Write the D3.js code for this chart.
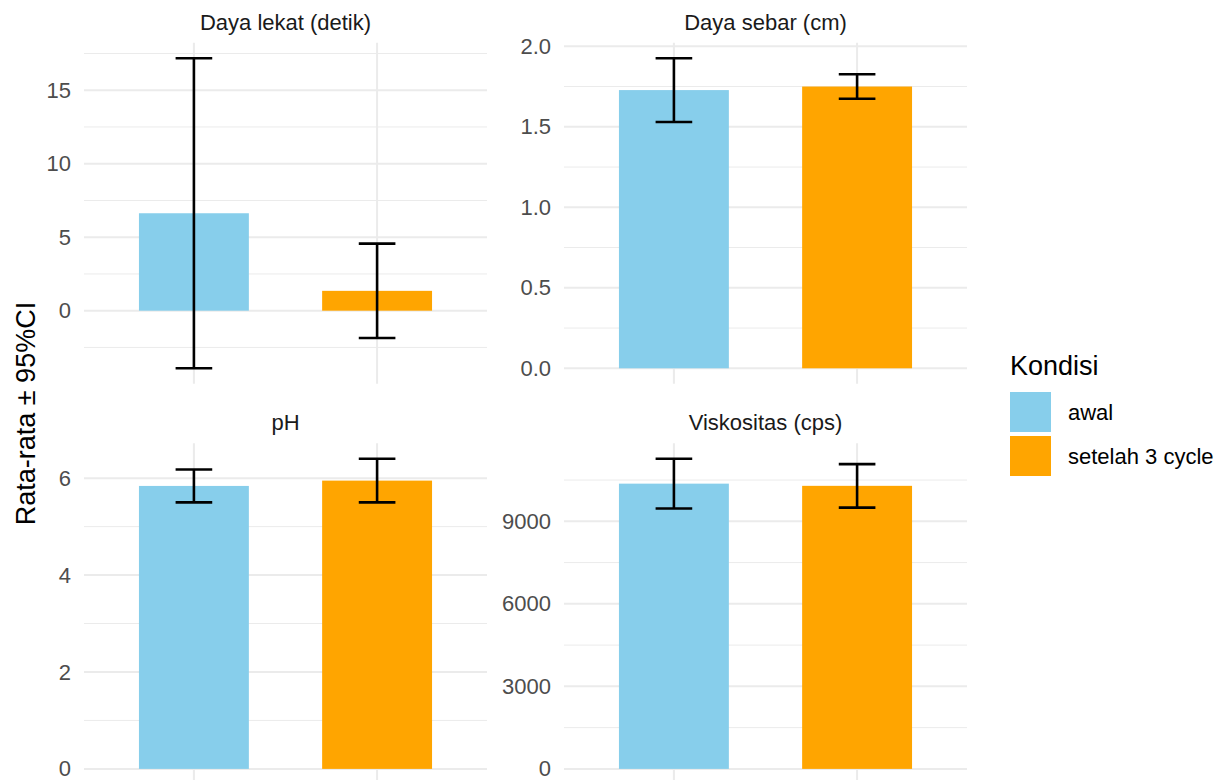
<!DOCTYPE html>
<html>
<head>
<meta charset="utf-8">
<script src="https://cdn.jsdelivr.net/npm/d3@7"></script>
<style>
  body { margin: 0; background: #fff; }
  svg { display: block; font-family: "Liberation Sans", Arial, sans-serif; }
</style>
</head>
<body>
<div id="chart"></div>
<script>
// facet titles and groups
var panels = ["Daya lekat (detik)", "Daya sebar (cm)", "pH", "Viskositas (cps)"];
var kondisi = ["awal", "setelah 3 cycle"];
var colors = ["#87CEEB", "#FFA500"];

// mean and 95% CI half width, per panel
var meanAwal = [6.63, 1.728, 5.84, 10370];
var meanSetelah = [1.35, 1.75, 5.95, 10290];
var ciAwal = [10.55, 0.198, 0.34, 903];
var ciSetelah = [3.21, 0.076, 0.45, 790];

// y ticks per panel
var yTicks = [[0, 5, 10, 15], [0, 0.5, 1.0, 1.5, 2.0], [0, 2, 4, 6], [0, 3000, 6000, 9000]];
var yFormats = ["d", ".1f", "d", "d"];

var W = 1224, H = 780;
var svg = d3.select("#chart").append("svg")
  .attr("width", W)
  .attr("height", H);

// panel boxes (left, right, top, bottom)
var cols = [[84, 487], [564, 967]];
var rows = [[42.7, 383.8], [443.3, 784.4]];

panels.forEach(function(name, i) {
  var c = cols[i % 2], r = rows[Math.floor(i / 2)];
  var g = svg.append("g");

  var rowsData = kondisi.map(function(k, j) {
    var m = j === 0 ? meanAwal[i] : meanSetelah[i];
    var ci = j === 0 ? ciAwal[i] : ciSetelah[i];
    return {k: k, mean: m, lo: m - ci, hi: m + ci, color: colors[j]};
  });

  var lo = Math.min(0, d3.min(rowsData, function(d) { return d.lo; }));
  var hi = Math.max(0, d3.max(rowsData, function(d) { return d.hi; }));
  var pad = (hi - lo) * 0.05;

  var y = d3.scaleLinear().domain([lo - pad, hi + pad]).range([r[1], r[0]]);
  var x = d3.scalePoint().domain(kondisi).range([c[0], c[1]]).padding(0.6);
  var step = x.step();

  // minor grid
  var ticks = yTicks[i];
  var tstep = ticks[1] - ticks[0];
  var minor = [];
  for (var v = ticks[0] - tstep / 2; v <= y.domain()[1]; v += tstep) {
    if (v >= y.domain()[0]) minor.push(v);
  }
  g.selectAll(".minor").data(minor).enter().append("line")
    .attr("x1", c[0]).attr("x2", c[1])
    .attr("y1", function(d) { return y(d); })
    .attr("y2", function(d) { return y(d); })
    .attr("stroke", "#EBEBEB").attr("stroke-width", 1);

  // major grid
  g.selectAll(".major").data(ticks).enter().append("line")
    .attr("x1", c[0]).attr("x2", c[1])
    .attr("y1", function(d) { return y(d); })
    .attr("y2", function(d) { return y(d); })
    .attr("stroke", "#EBEBEB").attr("stroke-width", 2);

  g.selectAll(".vgrid").data(kondisi).enter().append("line")
    .attr("x1", function(d) { return x(d); })
    .attr("x2", function(d) { return x(d); })
    .attr("y1", r[0]).attr("y2", r[1])
    .attr("stroke", "#EBEBEB").attr("stroke-width", 2);

  // bars
  g.selectAll(".bar").data(rowsData).enter().append("rect")
    .attr("x", function(d) { return x(d.k) - step * 0.3; })
    .attr("width", step * 0.6)
    .attr("y", function(d) { return Math.min(y(d.mean), y(0)); })
    .attr("height", function(d) { return Math.abs(y(0) - y(d.mean)); })
    .attr("fill", function(d) { return d.color; });

  // error bars
  var eb = g.selectAll(".eb").data(rowsData).enter().append("g")
    .attr("stroke", "#000").attr("stroke-width", 2.6);
  eb.append("line")
    .attr("x1", function(d) { return x(d.k); })
    .attr("x2", function(d) { return x(d.k); })
    .attr("y1", function(d) { return y(d.lo); })
    .attr("y2", function(d) { return y(d.hi); });
  eb.append("line")
    .attr("x1", function(d) { return x(d.k) - step * 0.1; })
    .attr("x2", function(d) { return x(d.k) + step * 0.1; })
    .attr("y1", function(d) { return y(d.hi); })
    .attr("y2", function(d) { return y(d.hi); });
  eb.append("line")
    .attr("x1", function(d) { return x(d.k) - step * 0.1; })
    .attr("x2", function(d) { return x(d.k) + step * 0.1; })
    .attr("y1", function(d) { return y(d.lo); })
    .attr("y2", function(d) { return y(d.lo); });

  // y axis labels
  var ax = g.append("g")
    .attr("transform", "translate(" + c[0] + ",0)")
    .call(d3.axisLeft(y).tickValues(ticks).tickFormat(d3.format(yFormats[i]))
      .tickSize(0).tickPadding(13));
  ax.select(".domain").remove();
  ax.selectAll("text")
    .attr("fill", "#4D4D4D")
    .style("font-size", "22px")
    .style("font-family", "'Liberation Sans', Arial, sans-serif");

  // strip title
  g.append("text")
    .attr("x", (c[0] + c[1]) / 2)
    .attr("y", r[0] - 13)
    .attr("text-anchor", "middle")
    .attr("fill", "#1A1A1A")
    .style("font-size", "22px")
    .text(name);
});

// y axis title
svg.append("text")
  .attr("transform", "translate(35," + (rows[0][0] + rows[1][1]) / 2 + ") rotate(-90)")
  .attr("text-anchor", "middle")
  .style("font-size", "27px")
  .attr("fill", "#000")
  .text("Rata-rata ± 95%CI");

// legend
var leg = svg.append("g").attr("transform", "translate(1010,0)");
leg.append("text")
  .attr("x", 0).attr("y", 375)
  .style("font-size", "27px")
  .text("Kondisi");
var items = leg.selectAll(".item").data(kondisi).enter().append("g")
  .attr("transform", function(d, j) { return "translate(0," + (392 + j * 44) + ")"; });
items.append("rect")
  .attr("width", 41).attr("height", 40)
  .attr("fill", function(d, j) { return colors[j]; });
items.append("text")
  .attr("x", 58).attr("y", 20).attr("dy", "0.35em")
  .style("font-size", "22px")
  .text(function(d) { return d; });
</script>
</body>
</html>
